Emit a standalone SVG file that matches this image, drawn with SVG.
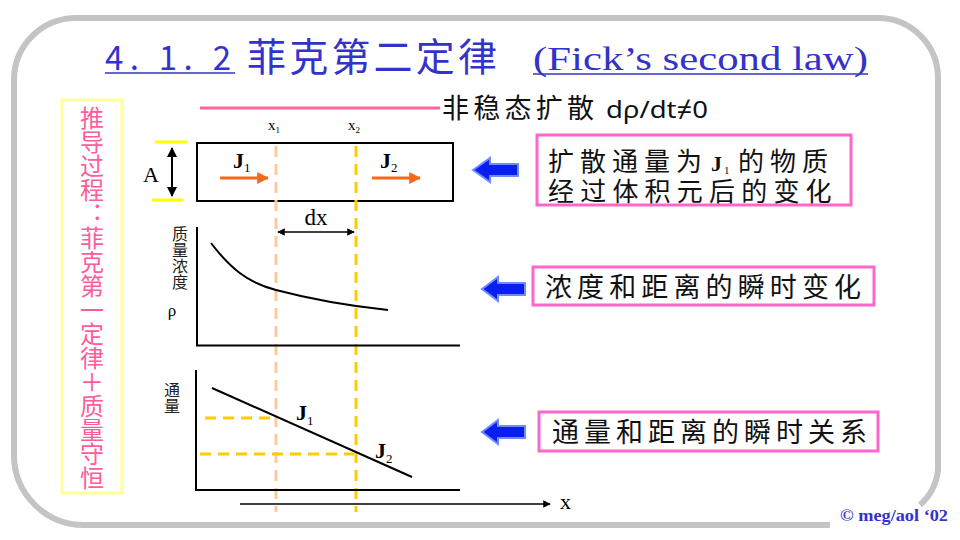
<svg xmlns="http://www.w3.org/2000/svg" width="960" height="540" viewBox="0 0 960 540">
<defs>
<style>
.cjk{font-family:"Noto Sans CJK SC","Noto Sans",sans-serif;}
.ser{font-family:"Liberation Serif","DejaVu Serif",serif;}
.title{fill:#3333cc;}
.box{fill:#ffffff;stroke:#ff66cc;stroke-width:3;}
.txt{fill:#111;font-size:27px;}
.ax{stroke:#000;stroke-width:2;fill:none;}
.d1{stroke:#fcc99a;stroke-width:3;stroke-dasharray:11 7;fill:none;}
.d2{stroke:#ffcc00;stroke-width:3;stroke-dasharray:11 7;fill:none;}
.org{stroke:#f26a1b;stroke-width:3;fill:none;}
.barrow{fill:#0a1ef0;stroke:#6f8cff;stroke-width:2;}
</style>
<marker id="oh" viewBox="0 0 10 10" refX="9" refY="5" markerWidth="4" markerHeight="4" orient="auto"><path d="M0,0 L10,5 L0,10 z" fill="#f26a1b"/></marker>
<marker id="kh" viewBox="0 0 10 10" refX="9" refY="5" markerWidth="5" markerHeight="5" orient="auto-start-reverse"><path d="M0,0 L10,5 L0,10 z" fill="#000"/></marker>
</defs>
<rect width="960" height="540" fill="#fff"/>
<path d="M830,525 H84 A70,70 0 0 1 14,455 V80 A62,62 0 0 1 76,18 H878 A60,60 0 0 1 938,78 V470 A55,55 0 0 1 920,505" fill="none" stroke="#c4c4c4" stroke-width="6"/>

<g id="title">
<text x="105" y="70" class="cjk title" font-size="33" textLength="126" lengthAdjust="spacing">4. 1. 2</text>
<line x1="105" y1="73" x2="235" y2="73" stroke="#3333cc" stroke-width="1.5"/>
<text x="247" y="71" class="cjk title" font-size="39" textLength="250" lengthAdjust="spacing">菲克第二定律</text>
<text x="533" y="70" class="ser title" font-size="33" textLength="335" lengthAdjust="spacingAndGlyphs">(Fick’s second law)</text>
<line x1="533" y1="74" x2="868" y2="74" stroke="#3333cc" stroke-width="1.5"/>
</g>

<g id="subtitle">
<line x1="200" y1="108" x2="440" y2="108" stroke="#ff6699" stroke-width="3"/>
<text x="442" y="118" class="cjk" font-size="27" fill="#111" textLength="152" lengthAdjust="spacing">非稳态扩散</text>
<text x="606" y="118" font-family="'Noto Sans','DejaVu Sans',sans-serif" font-size="24" fill="#111" textLength="102" lengthAdjust="spacingAndGlyphs">dρ/dt≠0</text>
</g>

<g id="derivation">
<rect x="62" y="100" width="60" height="393" fill="none" stroke="#ffff99" stroke-width="3"/>
<text x="92" y="106" class="cjk" font-size="24" fill="#ff5c9a" writing-mode="vertical-rl" textLength="384" lengthAdjust="spacing">推导过程：菲克第一定律＋质量守恒</text>
</g>

<g id="volume-element">
<rect x="197" y="143" width="256" height="58" fill="none" stroke="#000" stroke-width="2"/>
<line x1="155" y1="142" x2="187" y2="142" stroke="#ffff00" stroke-width="3"/>
<line x1="152" y1="200" x2="183" y2="200" stroke="#ffff00" stroke-width="3"/>
<line x1="172" y1="148" x2="172" y2="196" stroke="#000" stroke-width="2" marker-start="url(#kh)" marker-end="url(#kh)"/>
<text x="143" y="182" class="ser" font-size="22" fill="#000">A</text>
<text x="268" y="130" class="ser" font-size="15" fill="#000">x<tspan font-size="9" dy="3">1</tspan></text>
<text x="348" y="130" class="ser" font-size="15" fill="#000">x<tspan font-size="9" dy="3">2</tspan></text>
<text x="233" y="168" class="ser" font-size="22" font-weight="bold" fill="#000">J<tspan font-size="13" font-weight="normal" dy="4">1</tspan></text>
<text x="380" y="168" class="ser" font-size="22" font-weight="bold" fill="#000">J<tspan font-size="13" font-weight="normal" dy="4">2</tspan></text>
<line x1="220" y1="178" x2="268" y2="178" class="org" marker-end="url(#oh)"/>
<line x1="372" y1="178" x2="420" y2="178" class="org" marker-end="url(#oh)"/>
</g>

<g id="guides">
<line x1="276" y1="146" x2="276" y2="512" class="d1"/>
<line x1="356" y1="146" x2="356" y2="512" class="d2"/>
<line x1="278" y1="232" x2="354" y2="232" stroke="#000" stroke-width="1.5" marker-start="url(#kh)" marker-end="url(#kh)"/>
<text x="316" y="225" class="ser" font-size="23" fill="#000" text-anchor="middle">dx</text>
</g>

<g id="density-graph">
<path d="M197,227 V345.5 H460" class="ax"/>
<text x="180" y="226" class="cjk" font-size="16" fill="#222" writing-mode="vertical-rl" textLength="64" lengthAdjust="spacing">质量浓度</text>
<text x="172" y="316" class="ser" font-size="17" fill="#000" text-anchor="middle">ρ</text>
<path d="M211,243 C230,268 248,283 276,290 C310,299 350,306 388,310" fill="none" stroke="#000" stroke-width="2"/>
</g>

<g id="flux-graph">
<path d="M196,370 V490 H460" class="ax"/>
<text x="172" y="382" class="cjk" font-size="16" fill="#222" writing-mode="vertical-rl">通量</text>
<line x1="212" y1="388" x2="412" y2="477" stroke="#000" stroke-width="2"/>
<line x1="205" y1="418" x2="274" y2="418" class="d2"/>
<line x1="200" y1="454" x2="354" y2="454" class="d2"/>
<text x="296" y="420" class="ser" font-size="22" font-weight="bold" fill="#000">J<tspan font-size="13" font-weight="normal" dy="5">1</tspan></text>
<text x="375" y="458" class="ser" font-size="22" font-weight="bold" fill="#000">J<tspan font-size="13" font-weight="normal" dy="5">2</tspan></text>
<line x1="240" y1="504" x2="550" y2="504" stroke="#000" stroke-width="1.5" marker-end="url(#kh)"/>
<text x="560" y="509" class="ser" font-size="22" fill="#000">x</text>
</g>

<g id="note1">
<polygon points="473,170 490,158 490,164 518,164 518,176 490,176 490,182" class="barrow"/>
<rect x="537" y="135" width="314" height="70" class="box"/>
<text class="cjk" font-size="26" fill="#111"><tspan x="548 580 612 644 676" y="171">扩散通量为</tspan><tspan x="711" y="171" class="ser" font-size="22" font-weight="bold">J</tspan><tspan x="724" y="174" class="ser" font-size="11">1</tspan><tspan x="738 770 802" y="171">的物质</tspan><tspan x="548 580.2 612.4 644.6 676.8 709 741.2 773.4 805.6" y="201">经过体积元后的变化</tspan></text>
</g>

<g id="note2">
<polygon points="482,289 498,277 498,283 525,283 525,295 498,295 498,301" class="barrow"/>
<rect x="533" y="267" width="341" height="38" class="box"/>
<text x="545" y="297" class="cjk txt" textLength="316" lengthAdjust="spacing">浓度和距离的瞬时变化</text>
</g>

<g id="note3">
<polygon points="482,432 498,420 498,426 525,426 525,438 498,438 498,444" class="barrow"/>
<rect x="539" y="412" width="339" height="39" class="box"/>
<text x="552" y="442" class="cjk txt" textLength="315" lengthAdjust="spacing">通量和距离的瞬时关系</text>
</g>

<text x="840" y="521" class="ser" font-size="16" font-weight="bold" fill="#3333cc" textLength="108" lengthAdjust="spacingAndGlyphs">© meg/aol ‘02</text>
</svg>
